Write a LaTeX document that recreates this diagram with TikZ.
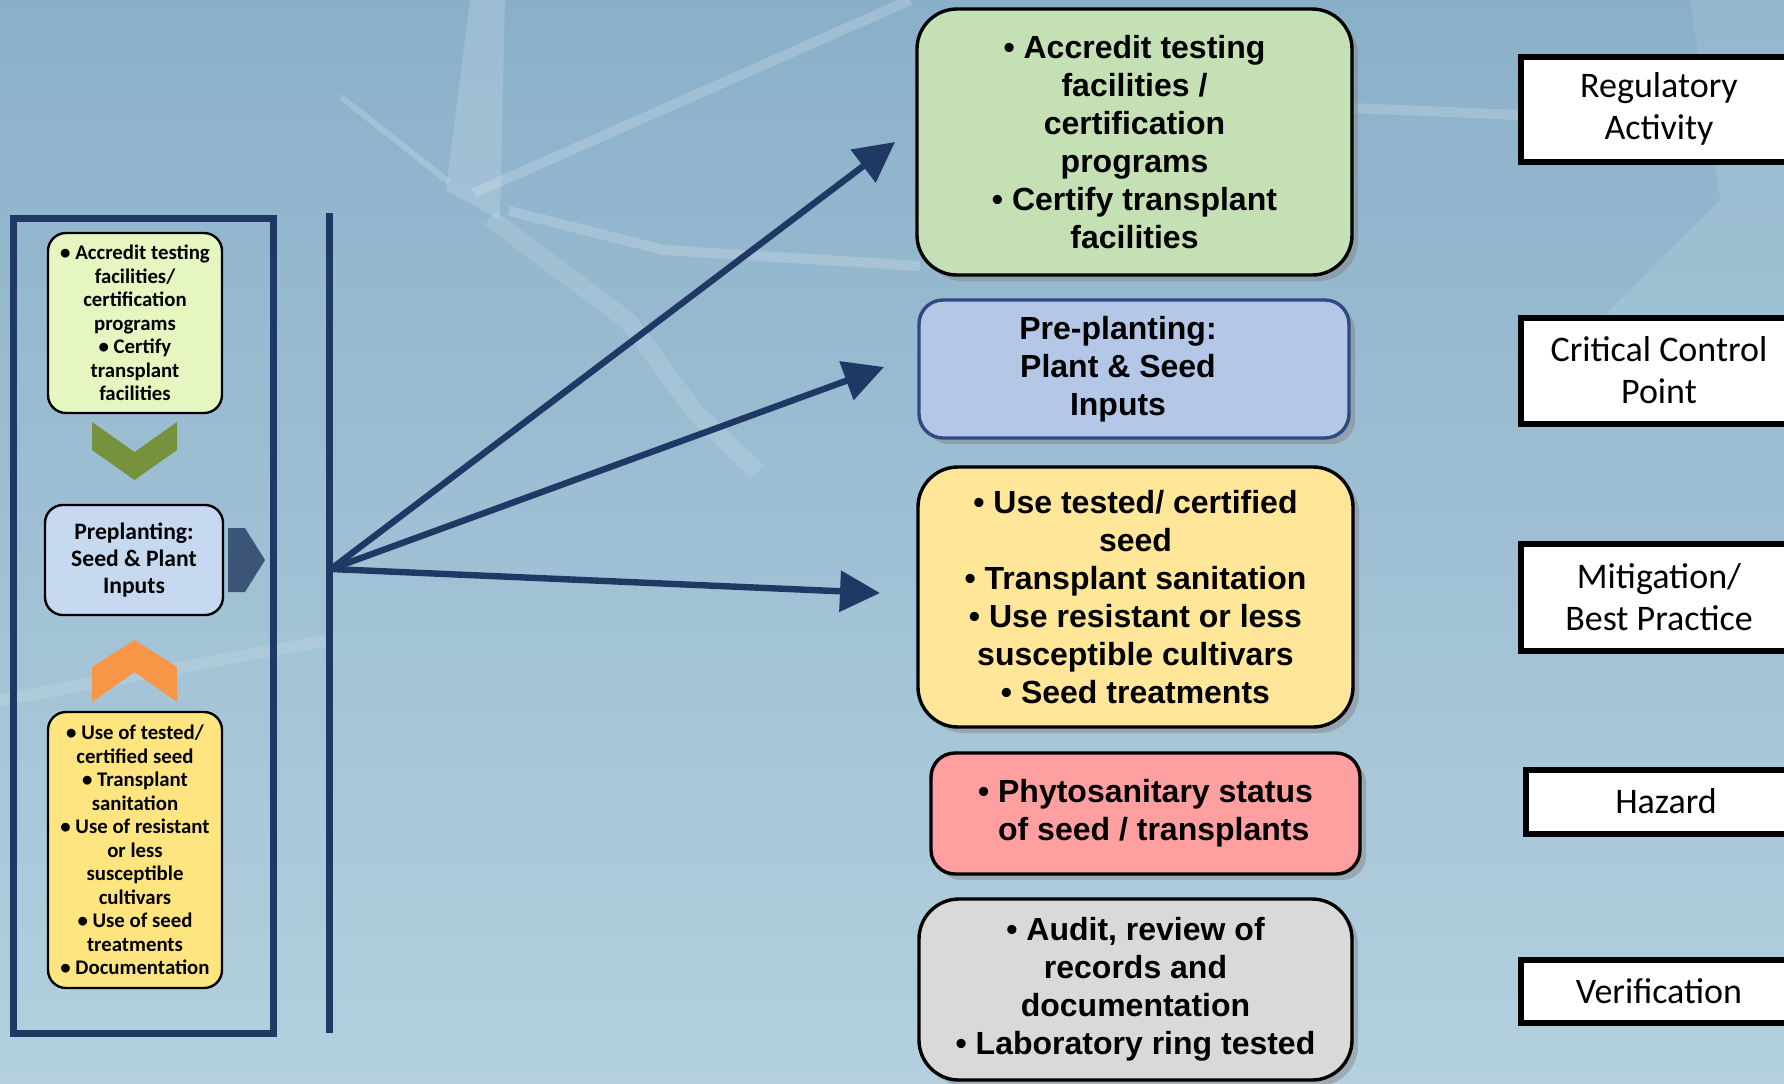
\documentclass[tikz,border=0pt]{standalone}
\usepackage{fontspec}
\setmainfont{Liberation Sans}
\newfontfamily\carlito{Carlito}
\usetikzlibrary{arrows.meta,shadows}
\definecolor{navy}{HTML}{1F3864}
\definecolor{bgtop}{RGB}{138,176,201}
\definecolor{bgbot}{RGB}{180,208,223}
\definecolor{accgreen}{RGB}{197,224,180}
\definecolor{preblue}{RGB}{180,199,231}
\definecolor{mityellow}{RGB}{255,230,153}
\definecolor{hazred}{RGB}{255,159,159}
\definecolor{vergray}{RGB}{217,217,217}
\definecolor{lime}{RGB}{230,246,192}
\definecolor{paleblue}{RGB}{198,217,241}
\definecolor{gold}{RGB}{255,229,127}
\definecolor{olive}{RGB}{118,146,60}
\definecolor{peach}{RGB}{247,150,70}
\definecolor{slate}{RGB}{59,84,120}
\definecolor{edgeblue}{RGB}{47,74,130}
\begin{document}
\begin{tikzpicture}[x=0.5pt,y=-0.5pt]
 \tikzset{
  directed/.style={-{Triangle[length=20pt,width=20pt]}, line width=3.2pt, color=navy},
  bigbox/.style={draw, line width=1.7pt, rounded corners=20pt, align=center, inner sep=0pt,
   font=\bfseries\fontsize{16}{19}\selectfont,
   drop shadow={shadow xshift=3pt, shadow yshift=-3pt, opacity=0.45}},
  smallbox/.style={draw, line width=1.2pt, rounded corners=9pt, align=center, inner sep=0pt,
   font=\carlito\bfseries\fontsize{10.4}{11.75}\selectfont},
  tag/.style={draw, fill=white, line width=3pt, align=center, inner sep=0pt,
   font=\carlito\fontsize{18}{21}\selectfont}
 }
 \clip (0,0) rectangle (1784,1083);
 % background
 \shade[top color=bgtop, bottom color=bgbot] (0,0) rectangle (1784,1083);
 \fill[white, opacity=0.16] (446,190) -- (470,0) -- (505,0) -- (500,220) -- cycle;
 \draw[white, opacity=0.18, line width=3pt] (449,182) -- (341,97);
 \draw[white, opacity=0.18, line width=5pt] (474,193) -- (910,0);
 \draw[white, opacity=0.18, line width=5pt] (509,211) -- (664,250) -- (920,266);
 \draw[white, opacity=0.18, line width=5pt] (1352,108) -- (1520,115);
 \draw[white, opacity=0.12, line width=9pt] (490,218) -- (628,321) -- (695,412) -- (758,472);
 \fill[white, opacity=0.1] (1690,0) -- (1784,0) -- (1784,330) -- (1600,320) -- (1720,200) -- cycle;
 \draw[white, opacity=0.12, line width=6pt] (0,700) -- (330,640);

 % left panel
 \draw[navy, line width=3.5pt] (13.5,218) rectangle (273,1033);
 \node[smallbox, fill=lime, minimum width=87pt, minimum height=90pt] (P1) at (135,323)
  {• Accredit testing\\facilities/\\certification\\programs\\• Certify\\transplant\\facilities};
 \node[smallbox, fill=paleblue, minimum width=89pt, minimum height=55pt,
  font=\carlito\bfseries\fontsize{11.8}{13.3}\selectfont] (P2) at (134,560)
  {Preplanting:\\Seed \& Plant\\Inputs};
 \node[smallbox, fill=gold, minimum width=87pt, minimum height=138pt] (P3) at (135,850)
  {• Use of tested/\\certified seed\\• Transplant\\sanitation\\• Use of resistant\\or less\\susceptible\\cultivars\\• Use of seed\\treatments\\• Documentation};
 \fill[olive] (92,422) -- (134.5,452) -- (177,422) -- (177,450) -- (134.5,480) -- (92,450) -- cycle;
 \fill[peach] (92,667) -- (134.5,640) -- (177,667) -- (177,702) -- (134.5,672) -- (92,702) -- cycle;
 \fill[slate] (228,528) -- (245,528) -- (265,560) -- (245,592) -- (228,592) -- cycle;

 % fan of arrows
 \coordinate (Top) at (329,213);
 \coordinate (Bot) at (329,1033);
 \coordinate (O) at (331,569);
 \coordinate (T1) at (895,142);
 \coordinate (T2) at (884,367);
 \coordinate (T3) at (880,593);
 \draw[navy, line width=3.5pt] (Top) -- (Bot);
 \draw[directed] (O) -- (T1);
 \draw[directed] (O) -- (T2);
 \draw[directed] (O) -- (T3);

 % right column
 \node[bigbox, fill=accgreen, minimum width=217.5pt, minimum height=133pt] (R1) at (1134.5,142)
  {• Accredit testing\\facilities /\\certification\\programs\\• Certify transplant\\facilities};
 \node[bigbox, fill=preblue, draw=edgeblue, rounded corners=12pt, minimum width=215pt, minimum height=69pt] (R2) at (1134,369)
  {Pre-planting:\hspace*{16pt}\mbox{}\\Plant \& Seed\hspace*{16pt}\mbox{}\\Inputs\hspace*{16pt}\mbox{}};
 \node[bigbox, fill=mityellow, minimum width=217.5pt, minimum height=130pt] (R3) at (1135.5,597)
  {• Use tested/ certified\\seed\\• Transplant sanitation\\• Use resistant or less\\susceptible cultivars\\• Seed treatments};
 \node[bigbox, fill=hazred, rounded corners=12pt, minimum width=214.5pt, minimum height=60.5pt, align=left] (R4) at (1145.5,813.5)
  {• Phytosanitary status\\\hphantom{• }of seed / transplants};
 \node[bigbox, fill=vergray, minimum width=216.5pt, minimum height=90.5pt] (R5) at (1135.5,989.5)
  {• Audit, review of\\records and\\documentation\\• Laboratory ring tested};

 % tags
 \node[tag, minimum width=138pt, minimum height=52.5pt] (L1) at (1659,109) {Regulatory\\Activity};
 \node[tag, minimum width=138pt, minimum height=53pt] (L2) at (1659,370.5) {Critical Control\\Point};
 \node[tag, minimum width=138pt, minimum height=53.5pt] (L3) at (1659,597) {Mitigation/\\Best Practice};
 \node[tag, minimum width=140pt, minimum height=32pt] (L4) at (1666,801.5) {Hazard};
 \node[tag, minimum width=138pt, minimum height=31.5pt] (L5) at (1659,991) {Verification};
\end{tikzpicture}
\end{document}
